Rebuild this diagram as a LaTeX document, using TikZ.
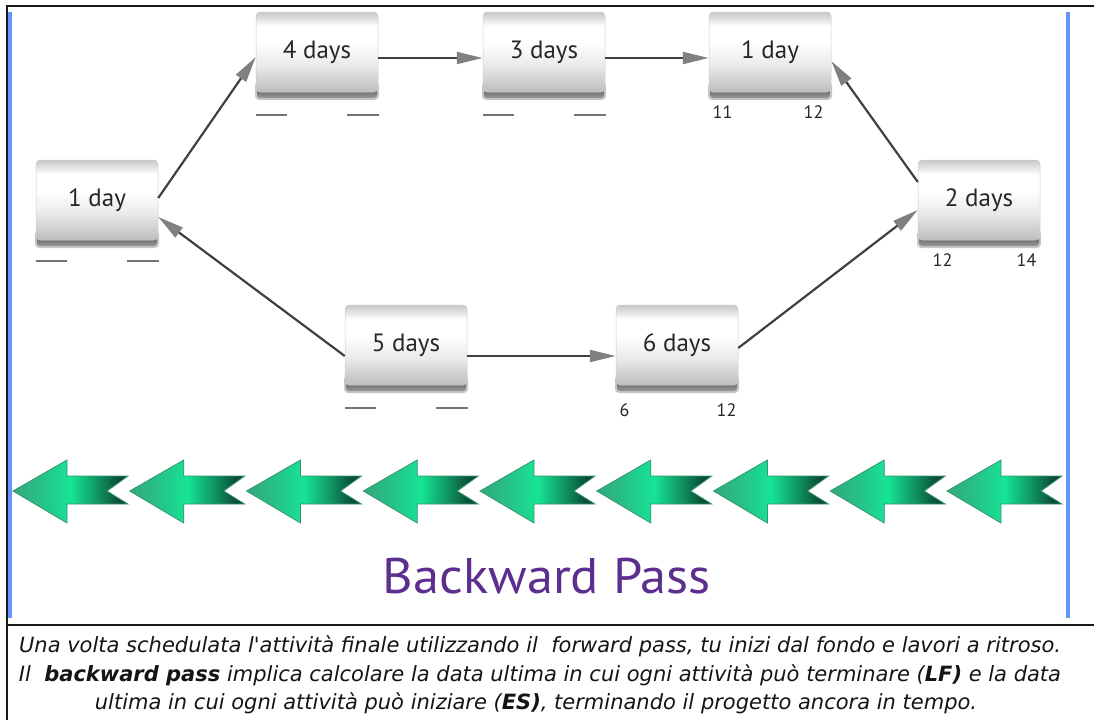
\documentclass[tikz,border=0pt]{standalone}
\usepackage{fontspec}
\setmainfont{PT Sans}
\newfontfamily\capfont{DejaVu Sans}
\newfontfamily\titlefont[FakeStretch=1.05]{PT Sans}
\usetikzlibrary{arrows.meta,calc}

\definecolor{frameblue}{RGB}{100,150,250}
\definecolor{passpurple}{RGB}{92,46,142}
\definecolor{gtip}{RGB}{50,168,124}
\definecolor{gmid}{RGB}{22,228,150}
\definecolor{gdark}{RGB}{10,78,54}
\definecolor{gedge}{RGB}{55,150,112}

% task box body: light grey top, white band, grey towards the bottom
\pgfdeclareverticalshading{taskshade}{100bp}{%
  color(0bp)=(black!26); color(25bp)=(black!26); color(42bp)=(black!8);
  color(56bp)=(white); color(66bp)=(white); color(75bp)=(black!22);
  color(100bp)=(black!22)}
% green arrow body: mid green tip, bright centre, dark tail
\pgfdeclarehorizontalshading{greenarrow}{100bp}{%
  color(0bp)=(gtip); color(25bp)=(gtip); color(38bp)=(gtip!55!gmid);
  color(50bp)=(gmid); color(62bp)=(gmid!45!gdark); color(71bp)=(gdark);
  color(100bp)=(gdark)}

\tikzset{
  task/.style={minimum width=122pt, minimum height=80pt, inner sep=0pt,
    rounded corners=4pt, shading=taskshade, draw=black!20, line width=0.5pt,
    font=\fontsize{25}{30}\selectfont, text=black!85},
  blank/.style={draw=black!55, line width=2.6pt},
  datelbl/.style={inner sep=0pt, font=\fontsize{18}{20}\selectfont, text=black!85},
  link/.style={draw=black!75, line width=2.2pt,
    -{Triangle[length=26pt,width=12pt,color=black!50]}},
  backarrow/.style={shading=greenarrow, draw=gedge, line width=0.8pt},
  caption/.style={anchor=base, inner sep=0pt,
    font=\capfont\itshape\fontsize{21}{25}\selectfont, text=black!92}
}

% task box with its dark bottom edge
\newcommand\taskbox[4]{%
  \fill[black!22, rounded corners=4pt] (#2-62,#3+30) rectangle (#2+62,#3+48);
  \shade[top color=black!68, bottom color=black!40, rounded corners=3pt]
    (#2-60,#3+34) rectangle (#2+60,#3+46);
  \node[task] (#1) at (#2,#3) {#4};}
% the two blank date slots under a box
\newcommand\blanks[2]{%
  \draw[blank] (#1-61,#2+63) -- (#1-30,#2+63);
  \draw[blank] (#1+30,#2+63) -- (#1+62,#2+63);}

\begin{document}
\begin{tikzpicture}[x=1pt,y=-1pt]
\useasboundingbox (0,0) rectangle (1094,720);

% frame
\fill[frameblue] (8,12) rectangle (11.5,618);
\fill[frameblue] (1066,12) rectangle (1070,618);
\draw[black!90, line width=2.2pt] (7,720) -- (7,6) -- (1094,6);
\draw[black!90, line width=2.2pt] (7,625) -- (1094,625);

% activities
\taskbox{a}{97}{200}{1 day}
\taskbox{b}{317}{52}{4 days}
\taskbox{c}{544}{52}{3 days}
\taskbox{d}{770}{52}{1 day}
\taskbox{e}{979}{200}{2 days}
\taskbox{f}{406}{345}{5 days}
\taskbox{g}{677}{345}{6 days}

% empty late-date slots
\blanks{97}{198}
\blanks{317}{52}
\blanks{544}{52}
\blanks{406}{345}

% computed dates
\node[datelbl] (d1) at (722.5,112) {11};
\node[datelbl] (d2) at (813.5,112) {12};
\node[datelbl] (e1) at (942.5,260) {12};
\node[datelbl] (e2) at (1026.5,260) {14};
\node[datelbl] (g1) at (624.5,410) {6};
\node[datelbl] (g2) at (726.5,410) {12};

% dependencies
\draw[link] ([yshift=2pt]a.east) -- ([yshift=-5pt]b.west);
\draw[link] ([yshift=-6pt]b.east) -- ([yshift=-6pt]c.west);
\draw[link] ([yshift=-6pt]c.east) -- ([yshift=-6pt]d.west);
\draw[link] ([yshift=18pt]e.west) -- ([yshift=-9pt]d.east);
\draw[link] ([yshift=-11pt]f.west) -- ([yshift=-17pt]a.east);
\draw[link] ([yshift=-11pt]f.east) -- ([yshift=-11pt]g.west);
\draw[link] ([yshift=-3pt]g.east) -- ([yshift=-10pt]e.west);

% row of backward arrows
\foreach \i in {0,...,8}{
  \pgfmathsetmacro\ax{13+116.75*\i}
  \path[backarrow] (\ax,491) -- ++(54,-31) -- ++(0,16) -- ++(61,0)
    -- ++(-21,15) -- ++(21,13) -- ++(-61,0) -- ++(0,19) -- cycle;
}

\node[anchor=base, inner sep=0pt, text=passpurple,
  font=\titlefont\fontsize{50}{56}\selectfont] (title) at (547,593) {Backward Pass};

% explanation
\node[caption] (cap1) at (540,652) {Una volta schedulata l'attività finale utilizzando il\ \ forward pass, tu inizi dal fondo e lavori a ritroso.};
\node[caption] (cap2) at (540,681) {Il\ \ \textbf{backward pass} implica calcolare la data ultima in cui ogni attività può terminare (\textbf{LF)} e la data};
\node[caption] (cap3) at (536,709) {ultima in cui ogni attività può iniziare (\textbf{ES)}, terminando il progetto ancora in tempo.};
\end{tikzpicture}
\end{document}
